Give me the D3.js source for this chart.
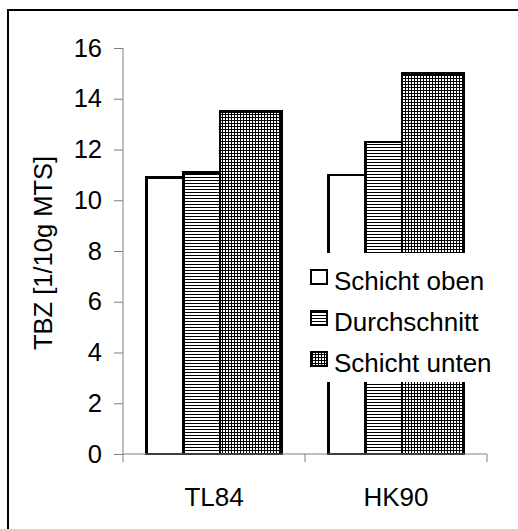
<!DOCTYPE html>
<html>
<head>
<meta charset="utf-8">
<script src="https://cdn.jsdelivr.net/npm/d3@7"></script>
<style>
  html, body { margin: 0; padding: 0; background: #fff; }
  svg { display: block; }
  text { font-family: Arial, "Liberation Sans", sans-serif; fill: #000; }
</style>
</head>
<body>
<svg id="chart" width="518" height="529"></svg>
<script>
// ---- data ----
const categories = ["TL84", "HK90"];
const seriesNames = ["Schicht oben", "Durchschnitt", "Schicht unten"];
const schichtOben = [10.9, 11.0];
const durchschnitt = [11.1, 12.3];
const schichtUnten = [13.5, 15.0];
const yTicks = [0, 2, 4, 6, 8, 10, 12, 14, 16];
const yTitle = "TBZ [1/10g MTS]";

// ---- layout / style ----
const plot = { left: 123, right: 487, top: 48, bottom: 454 };
const barWeights = [1, 1, 1.68];
const groupFrac = 0.74;
const fills = ["#fff", "url(#hlines)", "url(#grid)"];
const seriesValues = [schichtOben, durchschnitt, schichtUnten];
const FONT = "Arial, 'Liberation Sans', sans-serif";

const svg = d3.select("#chart");
const defs = svg.append("defs");

const ph = defs.append("pattern").attr("id", "hlines")
  .attr("patternUnits", "userSpaceOnUse").attr("width", 3).attr("height", 3);
ph.append("rect").attr("width", 3).attr("height", 3).attr("fill", "#fff");
ph.append("rect").attr("y", 0).attr("width", 3).attr("height", 1).attr("fill", "#000");

const pg = defs.append("pattern").attr("id", "grid")
  .attr("patternUnits", "userSpaceOnUse").attr("width", 3).attr("height", 3);
pg.append("rect").attr("width", 3).attr("height", 3).attr("fill", "#fff");
pg.append("rect").attr("width", 3).attr("height", 1).attr("fill", "#000");
pg.append("rect").attr("width", 1).attr("height", 3).attr("fill", "#000");

// frame (top + left visible)
svg.append("rect").attr("x", 8).attr("y", 10).attr("width", 700).attr("height", 700)
  .attr("fill", "none").attr("stroke", "#000").attr("stroke-width", 2);

const x0 = d3.scaleBand().domain(categories).range([plot.left, plot.right]).padding(0);
const y = d3.scaleLinear().domain([0, 16]).range([plot.bottom, plot.top]);

// bars
const totalW = d3.sum(barWeights);
const gw = x0.bandwidth() * groupFrac;
const bars = [];
categories.forEach((c, ci) => {
  let xs = x0(c) + x0.bandwidth() / 2 - gw / 2;
  seriesValues.forEach((vals, si) => {
    const w = gw * barWeights[si] / totalW;
    bars.push({ x: xs, w, v: vals[ci], si });
    xs += w;
  });
});
svg.append("g").selectAll("rect").data(bars).join("rect")
  .attr("x", d => d.x).attr("width", d => d.w)
  .attr("y", d => y(d.v)).attr("height", d => y(0) - y(d.v))
  .attr("fill", d => fills[d.si])
  .attr("stroke", "#000").attr("stroke-width", 2.5)
  .attr("shape-rendering", "crispEdges");

// y axis
const yAxis = svg.append("g").attr("transform", `translate(${plot.left},0)`)
  .call(d3.axisLeft(y).tickValues(yTicks).tickSize(9).tickPadding(12).tickFormat(d3.format("d")));
yAxis.select(".domain").remove();
yAxis.selectAll(".tick line").attr("stroke", "#808080");
yAxis.selectAll(".tick text").attr("font-size", 25.5).attr("font-family", FONT).attr("fill", "#000");
svg.append("line").attr("x1", plot.left).attr("x2", plot.left)
  .attr("y1", y(16)).attr("y2", y(0) + 8).attr("stroke", "#808080").attr("stroke-width", 1);

// x axis
svg.append("line").attr("x1", plot.left).attr("x2", plot.right)
  .attr("y1", y(0)).attr("y2", y(0)).attr("stroke", "#808080").attr("stroke-width", 1);
const boundaries = categories.map(c => x0(c) + x0.bandwidth());
svg.append("g").selectAll("line").data(boundaries).join("line")
  .attr("x1", d => d).attr("x2", d => d).attr("y1", y(0)).attr("y2", y(0) + 8)
  .attr("stroke", "#808080").attr("stroke-width", 1);
const xAxis = svg.append("g").attr("transform", `translate(0,${y(0)})`)
  .call(d3.axisBottom(x0).tickSize(0).tickPadding(34));
xAxis.select(".domain").remove();
xAxis.selectAll(".tick text").attr("font-size", 26).attr("font-family", FONT).attr("fill", "#000");

// y title
svg.append("text").attr("transform", `translate(52,${(y(0) + y(16)) / 2 + 2}) rotate(-90)`)
  .attr("text-anchor", "middle").attr("font-size", 25.5).text(yTitle);

// legend (white background hides bars behind it)
const lg = svg.append("g");
lg.append("rect").attr("x", 305).attr("y", 253).attr("width", 192).attr("height", 129)
  .attr("fill", "#fff");
seriesNames.forEach((n, i) => {
  const base = 290 + i * 41;
  lg.append("rect").attr("x", 311).attr("y", base - 20).attr("width", 16).attr("height", 14)
    .attr("fill", fills[i]).attr("stroke", "#000").attr("stroke-width", 2)
    .attr("shape-rendering", "crispEdges");
  lg.append("text").attr("x", 334).attr("y", base).attr("font-size", 26).text(n);
});
</script>
</body>
</html>
